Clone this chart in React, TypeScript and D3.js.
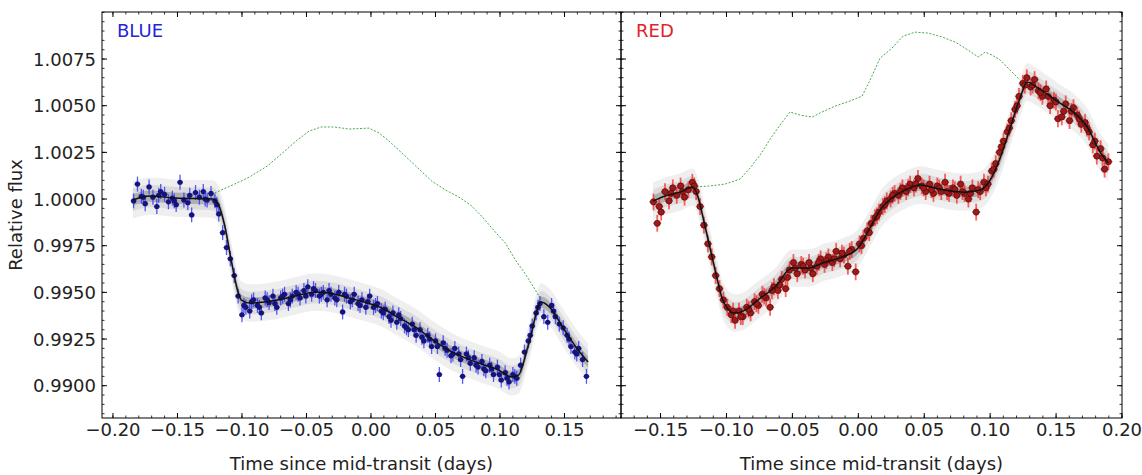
import React from "react";
import * as d3 from "d3";

// ---- axes ----
const Y_TICKS = [0.99, 0.9925, 0.995, 0.9975, 1.0, 1.0025, 1.005, 1.0075];
const BLUE_X_TICKS = [-0.2, -0.15, -0.1, -0.05, 0, 0.05, 0.1, 0.15];
const RED_X_TICKS = [-0.15, -0.1, -0.05, 0, 0.05, 0.1, 0.15, 0.2];

// ---- BLUE: GP model (time, flux) ----
const BLUE_MODEL: [number, number][] = [
  [-0.1846, 0.99995], [-0.1714, 1.00016], [-0.1521, 1.00005], [-0.1228, 1.0],
  [-0.1189, 0.99979], [-0.1135, 0.99861], [-0.1081, 0.99663], [-0.1035, 0.99513],
  [-0.1004, 0.99459], [-0.0942, 0.99443], [-0.0826, 0.99448], [-0.0687, 0.99464],
  [-0.0556, 0.99486], [-0.0425, 0.99502], [-0.0286, 0.99491], [-0.017, 0.9947],
  [-0.0054, 0.99448], [0.0085, 0.99416], [0.0216, 0.99363], [0.0347, 0.99314],
  [0.0471, 0.9925], [0.0602, 0.99191], [0.0734, 0.99148], [0.0857, 0.99116],
  [0.0988, 0.99084], [0.1089, 0.99047], [0.1143, 0.99057], [0.122, 0.99218],
  [0.132, 0.99448], [0.139, 0.99416], [0.149, 0.99309], [0.1606, 0.99191],
  [0.1683, 0.99127],
];

// ---- BLUE: uncorrected light curve (green dotted) ----
const BLUE_TREND: [number, number][] = [
  [-0.1212, 1.00032], [-0.1058, 1.0008], [-0.0942, 1.00118], [-0.0803, 1.00177],
  [-0.0687, 1.00246], [-0.0572, 1.00316], [-0.0479, 1.00364], [-0.0386, 1.00386],
  [-0.0286, 1.00386], [-0.017, 1.00375], [-0.0016, 1.0038], [0.0062, 1.00354],
  [0.0139, 1.00311], [0.0216, 1.00262], [0.0347, 1.00177], [0.0471, 1.00096],
  [0.0579, 1.00048], [0.068, 1.00011], [0.0772, 0.99968], [0.0857, 0.99909],
  [0.095, 0.99834], [0.1042, 0.99764], [0.112, 0.99673], [0.1197, 0.99598],
  [0.1274, 0.99513], [0.132, 0.99459],
];

// ---- BLUE: data points ----
const BLUE_POINTS: [number, number][] = [
  [-0.184, 0.9999], [-0.181, 1.0008], [-0.178, 1.00015], [-0.175, 0.99975],
  [-0.172, 1.00065], [-0.169, 1.0001], [-0.166, 0.9996], [-0.163, 1.0004],
  [-0.16, 1.00025], [-0.157, 0.99985], [-0.154, 1.00005], [-0.151, 0.9997],
  [-0.148, 1.0009], [-0.145, 0.99995], [-0.142, 0.9998], [-0.139, 0.99915],
  [-0.136, 1.00035], [-0.133, 1.0001], [-0.13, 1.0004], [-0.127, 0.99995],
  [-0.124, 1.0003], [-0.121, 0.9999], [-0.118, 0.9992], [-0.115, 0.9982],
  [-0.112, 0.9974], [-0.109, 0.9968], [-0.106, 0.9959], [-0.103, 0.9948],
  [-0.1, 0.9938], [-0.097, 0.9942], [-0.094, 0.994], [-0.091, 0.9946],
  [-0.088, 0.9943], [-0.085, 0.9939], [-0.082, 0.9947], [-0.079, 0.99445],
  [-0.076, 0.9948], [-0.073, 0.9942], [-0.07, 0.9947], [-0.067, 0.9949],
  [-0.064, 0.9944], [-0.061, 0.9948], [-0.058, 0.995], [-0.055, 0.9947],
  [-0.052, 0.9951], [-0.049, 0.9953], [-0.046, 0.9949], [-0.043, 0.9951],
  [-0.04, 0.9948], [-0.037, 0.995], [-0.034, 0.9946], [-0.031, 0.9949],
  [-0.028, 0.9947], [-0.025, 0.995], [-0.022, 0.99395], [-0.019, 0.9948],
  [-0.016, 0.9945], [-0.013, 0.9949], [-0.01, 0.9944], [-0.007, 0.9946],
  [-0.004, 0.9942], [-0.001, 0.9948], [0.002, 0.9942], [0.005, 0.9944],
  [0.008, 0.994], [0.011, 0.9941], [0.014, 0.9937], [0.017, 0.9939],
  [0.02, 0.9934], [0.023, 0.9936], [0.026, 0.9932], [0.029, 0.993],
  [0.032, 0.9933], [0.035, 0.9927], [0.038, 0.993], [0.041, 0.9924],
  [0.044, 0.9927], [0.047, 0.9921], [0.05, 0.9924], [0.053, 0.9906],
  [0.056, 0.9923], [0.059, 0.9919], [0.062, 0.9916], [0.065, 0.992],
  [0.068, 0.9917], [0.071, 0.9905], [0.074, 0.9917], [0.077, 0.9912],
  [0.08, 0.9915], [0.083, 0.991], [0.086, 0.9913], [0.089, 0.9908],
  [0.092, 0.9911], [0.095, 0.9906], [0.098, 0.991], [0.101, 0.9903],
  [0.104, 0.9907], [0.107, 0.9902], [0.11, 0.9906], [0.113, 0.9904],
  [0.116, 0.9911], [0.119, 0.9918], [0.122, 0.9924], [0.125, 0.9932],
  [0.128, 0.9939], [0.131, 0.9944], [0.134, 0.9937], [0.137, 0.9934],
  [0.14, 0.9943], [0.143, 0.9937], [0.146, 0.9933], [0.149, 0.9931],
  [0.152, 0.9927], [0.155, 0.9921], [0.158, 0.9918], [0.161, 0.992],
  [0.164, 0.9914], [0.167, 0.9905],
  [-0.1765, 1.0001], [-0.1645, 1.0002], [-0.1525, 0.9999], [-0.1405, 1.0002],
  [-0.1285, 1.0], [-0.1195, 0.9997], [-0.0985, 0.9943], [-0.0925, 0.9945],
  [-0.0865, 0.9942], [-0.0805, 0.9946], [-0.0745, 0.9944], [-0.0685, 0.9948],
  [-0.0625, 0.9946], [-0.0565, 0.9949], [-0.0505, 0.9948], [-0.0445, 0.9952],
  [-0.0385, 0.9949], [-0.0325, 0.9951], [-0.0265, 0.9946], [-0.0205, 0.9949],
  [-0.0145, 0.9946], [-0.0085, 0.9943], [-0.0025, 0.9945], [0.0035, 0.9943],
  [0.0095, 0.9939], [0.0155, 0.9935], [0.0215, 0.9938], [0.0275, 0.9931],
  [0.0335, 0.993], [0.0395, 0.9926], [0.0455, 0.9925], [0.0515, 0.9921],
  [0.0575, 0.992], [0.0635, 0.9917], [0.0695, 0.9914], [0.0755, 0.9915],
  [0.0815, 0.9911], [0.0875, 0.9909], [0.0935, 0.9909], [0.0995, 0.9906],
  [0.1055, 0.9904], [0.1115, 0.9905], [0.1235, 0.9927], [0.1295, 0.9942],
  [0.1415, 0.994], [0.1535, 0.9925], [0.1595, 0.9917],
];

// ---- RED: GP model ----
const RED_MODEL: [number, number][] = [
  [-0.1557, 0.99989], [-0.1466, 1.00016], [-0.1352, 1.00037], [-0.1254, 1.00064],
  [-0.1216, 1.00011], [-0.117, 0.99877], [-0.1125, 0.99738], [-0.1079, 0.99598],
  [-0.1034, 0.9947], [-0.0988, 0.99411], [-0.0935, 0.99389], [-0.0859, 0.99405],
  [-0.0761, 0.99459], [-0.0632, 0.99529], [-0.0503, 0.9963], [-0.0381, 0.9963],
  [-0.0252, 0.99663], [-0.0123, 0.99689], [-0.0002, 0.99738], [0.0089, 0.99845],
  [0.0165, 0.99941], [0.0264, 1.00011], [0.0355, 1.00048], [0.0469, 1.00075],
  [0.0582, 1.00059], [0.0696, 1.00043], [0.081, 1.00037], [0.0924, 1.00048],
  [0.1, 1.00102], [0.1076, 1.0022], [0.1151, 1.0038], [0.1227, 1.00541],
  [0.128, 1.00627], [0.1341, 1.00605], [0.1432, 1.00562], [0.153, 1.00514],
  [0.163, 1.00466], [0.1736, 1.00386], [0.1834, 1.00252], [0.1895, 1.00193],
];

// ---- RED: uncorrected light curve ----
const RED_TREND: [number, number][] = [
  [-0.1254, 1.00064], [-0.1125, 1.0007], [-0.1011, 1.0008], [-0.0897, 1.00107],
  [-0.0821, 1.00166], [-0.0745, 1.00236], [-0.0669, 1.00321], [-0.0594, 1.00396],
  [-0.0518, 1.00466], [-0.0442, 1.0045], [-0.0351, 1.00439], [-0.0275, 1.00466],
  [-0.0176, 1.00498], [-0.0063, 1.00525], [0.0029, 1.00552], [0.0089, 1.00637],
  [0.0165, 1.00755], [0.0256, 1.00809], [0.034, 1.00873], [0.0431, 1.00894],
  [0.0529, 1.00889], [0.0636, 1.00868], [0.0734, 1.00841], [0.0833, 1.00798],
  [0.0909, 1.00761], [0.0962, 1.00787], [0.1015, 1.00771], [0.1076, 1.00745],
  [0.1151, 1.00691], [0.1227, 1.00637],
];

// ---- RED: data points ----
const RED_POINTS: [number, number][] = [
  [-0.1554, 0.99985], [-0.1525, 0.9987], [-0.1495, 0.9993], [-0.1466, 1.0004],
  [-0.1436, 0.9999], [-0.1407, 1.0006], [-0.1377, 1.0002], [-0.1348, 1.0007],
  [-0.1318, 1.0001], [-0.1289, 1.0005], [-0.1259, 1.0009], [-0.123, 1.0004],
  [-0.12, 0.9996], [-0.1171, 0.9986], [-0.1141, 0.9976], [-0.1112, 0.9969],
  [-0.1082, 0.9959], [-0.1053, 0.9952], [-0.1023, 0.9946], [-0.0994, 0.9942],
  [-0.0964, 0.9938], [-0.0935, 0.9935], [-0.0905, 0.994], [-0.0876, 0.9937],
  [-0.0846, 0.9942], [-0.0817, 0.9939], [-0.0787, 0.9945], [-0.0758, 0.9943],
  [-0.0728, 0.9949], [-0.0699, 0.9947], [-0.0669, 0.9942], [-0.064, 0.9953],
  [-0.061, 0.9951], [-0.0581, 0.9957], [-0.0551, 0.9952], [-0.0522, 0.9962],
  [-0.0492, 0.9966], [-0.0463, 0.996], [-0.0433, 0.9965], [-0.0404, 0.9962],
  [-0.0374, 0.9966], [-0.0345, 0.996], [-0.0315, 0.9964], [-0.0286, 0.9968],
  [-0.0256, 0.9965], [-0.0227, 0.9969], [-0.0197, 0.9966], [-0.0168, 0.9972],
  [-0.0138, 0.9968], [-0.0109, 0.997], [-0.0079, 0.9964], [-0.005, 0.9973],
  [-0.002, 0.9961], [0.0009, 0.9976], [0.0039, 0.9979], [0.0068, 0.9983],
  [0.0098, 0.9987], [0.0127, 0.999], [0.0157, 0.9993], [0.0186, 0.9996],
  [0.0216, 0.9999], [0.0245, 1.0], [0.0275, 1.0003], [0.0304, 1.0002],
  [0.0334, 1.0006], [0.0363, 1.0004], [0.0393, 1.0008], [0.0422, 1.0006],
  [0.0452, 1.0011], [0.0481, 1.0007], [0.0511, 1.0004], [0.054, 1.0008],
  [0.057, 1.0003], [0.0599, 1.0007], [0.0629, 1.0004], [0.0658, 1.0009],
  [0.0688, 1.0003], [0.0717, 1.0006], [0.0747, 1.0002], [0.0776, 1.0008],
  [0.0806, 1.0003], [0.0835, 1.0], [0.0865, 1.0006], [0.0894, 0.9993],
  [0.0924, 1.0004], [0.0953, 1.0009], [0.0983, 1.0008], [0.1012, 1.0015],
  [0.1042, 1.0019], [0.1071, 1.0025], [0.1101, 1.0031], [0.113, 1.0036],
  [0.116, 1.0042], [0.1189, 1.0048], [0.1219, 1.0055], [0.1248, 1.0062],
  [0.1278, 1.0065], [0.1307, 1.006], [0.1337, 1.0064], [0.1366, 1.0058],
  [0.1396, 1.0055], [0.1425, 1.0059], [0.1455, 1.005], [0.1484, 1.0053],
  [0.1514, 1.0043], [0.1543, 1.0044], [0.1573, 1.0051], [0.1602, 1.0042],
  [0.1632, 1.0049], [0.1661, 1.0045], [0.1691, 1.004], [0.172, 1.0041],
  [0.175, 1.0036], [0.1779, 1.0029], [0.1809, 1.0023], [0.1838, 1.0027],
  [0.1868, 1.0016], [0.1897, 1.002],
  [-0.151, 0.9996], [-0.1421, 1.0003], [-0.1333, 1.0004], [-0.1244, 1.0007],
  [-0.095, 0.994], [-0.0891, 0.9937], [-0.0832, 0.9941], [-0.0773, 0.9944],
  [-0.0714, 0.9948], [-0.0655, 0.9951], [-0.0596, 0.9954], [-0.0537, 0.9958],
  [-0.0478, 0.9963], [-0.0419, 0.9964], [-0.036, 0.9963], [-0.0301, 0.9966],
  [-0.0242, 0.9967], [-0.0183, 0.9968], [-0.0124, 0.9971], [-0.0065, 0.9972],
  [0.0024, 0.9975], [0.0083, 0.9982], [0.0142, 0.9991], [0.0201, 0.9997],
  [0.026, 1.0002], [0.0319, 1.0004], [0.0378, 1.0006], [0.0437, 1.0008],
  [0.0496, 1.0006], [0.0555, 1.0005], [0.0614, 1.0006], [0.0673, 1.0004],
  [0.0732, 1.0005], [0.0791, 1.0004], [0.085, 1.0003], [0.0909, 1.0005],
  [0.0968, 1.0006], [0.1027, 1.0016], [0.1086, 1.0028], [0.1145, 1.0038],
  [0.1204, 1.005], [0.1263, 1.0061], [0.1322, 1.0061], [0.1381, 1.0057],
  [0.144, 1.0055], [0.1499, 1.0052], [0.1558, 1.0047], [0.1617, 1.0047],
  [0.1676, 1.0043], [0.1735, 1.0038], [0.1794, 1.0031], [0.1853, 1.0022],
];

const Y_DOMAIN: [number, number] = [0.98827, 1.01002];
const TOP = 12;
const BOTTOM = 418;
const FONT = "DejaVu Sans, sans-serif";
const TEXT = "#222";

const fmtX = d3.format(".2f");
const fmtY = d3.format(".4f");

const BANDS = [
  { w: 0.001, fill: "#efefef" },
  { w: 0.0006, fill: "#dcdcdc" },
  { w: 0.0003, fill: "#b0b0b0" },
];

type PanelProps = {
  id: string;
  x0: number;
  x1: number;
  domain: [number, number];
  xTicks: number[];
  model: [number, number][];
  trend: [number, number][];
  points: [number, number][];
  label: string;
  labelColor: string;
  showYLabels: boolean;
  kind: "blue" | "red";
};

const Panel = ({
  id, x0, x1, domain, xTicks, model, trend, points, label, labelColor, showYLabels, kind,
}: PanelProps) => {
  const x = d3.scaleLinear().domain(domain).range([x0, x1]);
  const y = d3.scaleLinear().domain(Y_DOMAIN).range([BOTTOM, TOP]);

  const line = d3
    .line<[number, number]>()
    .x((d) => x(d[0]))
    .y((d) => y(d[1]))
    .curve(d3.curveMonotoneX);

  const area = (w: number) =>
    d3
      .area<[number, number]>()
      .x((d) => x(d[0]))
      .y0((d) => y(d[1] - w))
      .y1((d) => y(d[1] + w))
      .curve(d3.curveMonotoneX)(model) || "";

  const trendLine = d3
    .line<[number, number]>()
    .x((d) => x(d[0]))
    .y((d) => y(d[1]));

  const xMinor = d3.range(Math.ceil(domain[0] * 100), Math.floor(domain[1] * 100) + 1).map((v) => v / 100);
  const yMinor = d3.range(Math.ceil(Y_DOMAIN[0] * 2000), Math.floor(Y_DOMAIN[1] * 2000) + 1).map((v) => v / 2000);

  const isBlue = kind === "blue";
  const err = isBlue ? 0.0004 : 0.00045;
  const half = isBlue ? 3 : 4;
  const barColor = isBlue ? "#3a3aff" : "#ff2020";

  return (
    <g>
      <defs>
        <clipPath id={`clip-${id}`}>
          <rect x={x0} y={TOP} width={x1 - x0} height={BOTTOM - TOP} />
        </clipPath>
      </defs>
      <g clipPath={`url(#clip-${id})`}>
        {BANDS.map((b, i) => (
          <path key={i} d={area(b.w)} fill={b.fill} stroke="none" />
        ))}
        <path
          d={trendLine(trend) || ""}
          fill="none"
          stroke="#48aa48"
          strokeWidth={1}
          strokeDasharray="2,1.6"
        />
        <g stroke={barColor} strokeWidth={isBlue ? 1.3 : 1.8} opacity={isBlue ? 0.85 : 0.7}>
          {points.map((p, i) => (
            <g key={i}>
              <line x1={x(p[0])} x2={x(p[0])} y1={y(p[1] - err)} y2={y(p[1] + err)} />
              <line x1={x(p[0]) - half} x2={x(p[0]) + half} y1={y(p[1])} y2={y(p[1])} />
            </g>
          ))}
        </g>
        {points.map((p, i) => (
          <circle
            key={i}
            cx={x(p[0])}
            cy={y(p[1])}
            r={isBlue ? 2.6 : 3.1}
            fill={isBlue ? "#14147a" : "#a01818"}
            stroke={isBlue ? "none" : "#3a0a0a"}
            strokeWidth={0.6}
          />
        ))}
        <path d={line(model) || ""} fill="none" stroke="#111" strokeWidth={1.5} />
      </g>

      {/* frame */}
      <rect x={x0} y={TOP} width={x1 - x0} height={BOTTOM - TOP} fill="none" stroke="#000" strokeWidth={1} />

      {/* x ticks, top and bottom */}
      {xMinor.map((t, i) => (
        <g key={`xm${i}`} stroke="#000" strokeWidth={0.8}>
          <line x1={x(t)} x2={x(t)} y1={BOTTOM} y2={BOTTOM - 2.5} />
          <line x1={x(t)} x2={x(t)} y1={TOP} y2={TOP + 2.5} />
        </g>
      ))}
      {xTicks.map((t, i) => (
        <g key={`xt${i}`}>
          <line x1={x(t)} x2={x(t)} y1={BOTTOM} y2={BOTTOM - 5} stroke="#000" />
          <line x1={x(t)} x2={x(t)} y1={TOP} y2={TOP + 5} stroke="#000" />
          <text x={x(t)} y={436} textAnchor="middle" fontFamily={FONT} fontSize={18} fill={TEXT}>
            {fmtX(t)}
          </text>
        </g>
      ))}

      {/* y ticks, left and right */}
      {yMinor.map((v, i) => (
        <g key={`ym${i}`} stroke="#000" strokeWidth={0.8}>
          <line x1={x0} x2={x0 + 2.5} y1={y(v)} y2={y(v)} />
          <line x1={x1} x2={x1 - 2.5} y1={y(v)} y2={y(v)} />
        </g>
      ))}
      {Y_TICKS.map((v, i) => (
        <g key={`yt${i}`}>
          <line x1={x0} x2={x0 + 5} y1={y(v)} y2={y(v)} stroke="#000" />
          <line x1={x1} x2={x1 - 5} y1={y(v)} y2={y(v)} stroke="#000" />
          {showYLabels && (
            <text
              x={x0 - 6} y={y(v)} dy="0.36em"
              textAnchor="end" fontFamily={FONT} fontSize={18} fill={TEXT}
            >
              {fmtY(v)}
            </text>
          )}
        </g>
      ))}

      <text x={x0 + 15} y={37} fontFamily={FONT} fontSize={18} fill={labelColor}>
        {label}
      </text>
      <text x={(x0 + x1) / 2} y={470} textAnchor="middle" fontFamily={FONT} fontSize={18} fill={TEXT}>
        Time since mid-transit (days)
      </text>
    </g>
  );
};

const App = () => {
  return (
    <svg
      width={1142}
      height={475}
      style={{ position: "absolute", left: 0, top: 0, background: "#fff" }}
    >
      <rect width={1142} height={475} fill="#fff" />
      <Panel
        id="blue"
        x0={102}
        x1={621}
        domain={[-0.2085, 0.1938]}
        xTicks={BLUE_X_TICKS}
        model={BLUE_MODEL}
        trend={BLUE_TREND}
        points={BLUE_POINTS}
        label="BLUE"
        labelColor="#2626d9"
        showYLabels={true}
        kind="blue"
      />
      <Panel
        id="red"
        x0={621}
        x1={1122}
        domain={[-0.18, 0.2]}
        xTicks={RED_X_TICKS}
        model={RED_MODEL}
        trend={RED_TREND}
        points={RED_POINTS}
        label="RED"
        labelColor="#e0242c"
        showYLabels={false}
        kind="red"
      />
      <text
        transform="translate(22, 215) rotate(-90)"
        textAnchor="middle"
        fontFamily={FONT}
        fontSize={18}
        fill={TEXT}
      >
        Relative flux
      </text>
    </svg>
  );
};

export default App;
